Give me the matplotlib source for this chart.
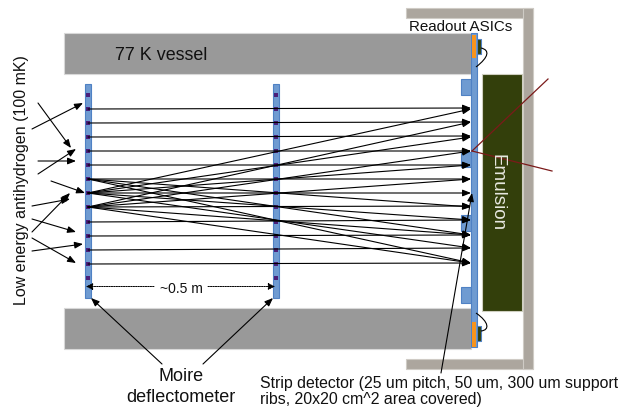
"""Moire deflectometer setup sketch."""

import matplotlib
matplotlib.use("Agg")
import matplotlib.pyplot as plt
from matplotlib.patches import Rectangle, PathPatch
from matplotlib.path import Path

plt.rcParams["font.family"] = ["Liberation Sans", "DejaVu Sans"]

# Grating slit positions
slit_y = [95, 109, 123, 137, 151, 165, 179, 193, 207, 222, 236, 250, 264, 278]

# Rays through the gratings (y on first grating, y on strip detector)
straight_start = [109, 123, 137, 151, 165, 179, 193, 207, 222, 236, 250, 264]
straight_end = [108, 122, 136, 151, 165, 179, 193, 206, 220, 235, 248, 263]
cross_start = [193, 193, 207, 207, 193, 207, 179, 179, 193, 179, 193, 207, 207]
cross_end = [109, 137, 122, 151, 165, 179, 207, 235, 220, 263, 248, 235, 263]

# Incoming antihydrogen arrows (tail x, tail y, head x, head y)
incoming = [
    (32, 129, 83, 103),
    (38, 103, 71, 148),
    (38, 174, 76, 149),
    (38, 161, 76, 161),
    (51, 181, 85, 193),
    (32, 206, 70, 199),
    (32, 232, 70, 193),
    (32, 219, 76, 232),
    (32, 251, 83, 244),
    (32, 238, 76, 263),
]

# Label pointers
pointers = [
    (162, 364, 91, 298),
    (203, 364, 273, 298),
    (441, 373, 472, 193),
]

# Blue pads on the detector (top y, bottom y)
pad_top = [79, 152, 215, 287]
pad_bottom = [95, 167, 231, 303]

GREY = "#999999"
FRAME = "#aca69e"
BLUE = "#6f9bd1"
EDGE = "#4f81c4"
DARK = "#333f0b"
ORANGE = "#f7941d"
SLIT = "#4b1f7a"
RED = "#7b1a1a"

fig = plt.figure(figsize=(6.18, 4.07), dpi=100)
ax = fig.add_axes([0, 0, 1, 1])
ax.set_xlim(0, 618)
ax.set_ylim(407, 0)
ax.axis("off")


def box(x0, y0, x1, y1, color, edge=None, lw=0.8, z=1):
    ax.add_patch(Rectangle((x0, y0), x1 - x0, y1 - y0, facecolor=color,
                           edgecolor=edge or "none", linewidth=lw, zorder=z))


def arrow(x0, y0, x1, y1, lw=0.8, z=5):
    ax.annotate("", xy=(x1, y1), xytext=(x0, y0), zorder=z,
                arrowprops=dict(arrowstyle="-|>,head_length=0.5,head_width=0.2",
                                color="black", lw=lw, shrinkA=0, shrinkB=0))


# Vessel and frame
box(64, 33, 471, 74, GREY, "#d8d8d8")
box(64, 308, 471, 349, GREY, "#d8d8d8")
box(406, 8, 533, 18, FRAME, "#cfcbc5")
box(406, 359, 533, 369, FRAME, "#cfcbc5")
box(523, 8, 533, 369, FRAME, "#cfcbc5")
box(482, 74, 522, 311, DARK, "#cfcfc0")

# Strip detector
for y0, y1 in zip(pad_top, pad_bottom):
    box(461, y0, 471, y1, BLUE, EDGE)
box(471, 33, 477, 347, BLUE, EDGE, z=2)
box(472, 35, 476, 58, ORANGE, z=3)
box(472, 322, 476, 347, ORANGE, z=3)
box(477, 39, 481, 54, DARK, EDGE, z=3)
box(477, 326, 481, 341, DARK, EDGE, z=3)

# Wire bonds
for verts in ([(481, 48), (490, 50), (489, 57), (476, 67)],
              [(481, 331), (490, 330), (489, 322), (476, 313)]):
    ax.add_patch(PathPatch(Path(verts, [Path.MOVETO, Path.CURVE4, Path.CURVE4, Path.CURVE4]),
                           fill=False, lw=0.8, color="black", zorder=3))

# Gratings
for x in (85, 273):
    box(x, 84, x + 6, 298, BLUE, EDGE, z=2)
    ax.scatter([x + 3] * len(slit_y), slit_y, marker="s", s=10, color=SLIT,
               linewidths=0, zorder=3)

# Rays
for y0, y1 in zip(straight_start, straight_end):
    arrow(88, y0, 471, y1)
for y0, y1 in zip(cross_start, cross_end):
    arrow(88, y0, 471, y1)

# Incoming particles and label pointers
for x0, y0, x1, y1 in incoming + pointers:
    arrow(x0, y0, x1, y1)

# Annihilation prongs
ax.plot([472, 548], [151, 79], color=RED, lw=0.9, zorder=6)
ax.plot([472, 552], [151, 171], color=RED, lw=0.9, zorder=6)

# Grating distance
ax.annotate("", xy=(86, 286.5), xytext=(154, 286.5), zorder=5,
            arrowprops=dict(arrowstyle="-|>,head_length=0.4,head_width=0.2", color="black",
                            lw=0.7, ls=(0, (1.5, 1)), shrinkA=0, shrinkB=0))
ax.annotate("", xy=(275, 286.5), xytext=(208, 286.5), zorder=5,
            arrowprops=dict(arrowstyle="-|>,head_length=0.4,head_width=0.2", color="black",
                            lw=0.7, ls=(0, (1.5, 1)), shrinkA=0, shrinkB=0))

# Labels
ax.text(115, 55, "77 K vessel", fontsize=12.9, va="center", color="#111111")
ax.text(409, 27, "Readout ASICs", fontsize=10.9, va="center", color="#111111")
ax.text(181, 289, "~0.5 m", fontsize=10, ha="center", va="center", color="#111111")
ax.text(181, 387, "Moire\ndeflectometer", fontsize=13, ha="center", va="center",
        linespacing=1.25, color="#111111")
ax.text(260, 391.5, "Strip detector (25 um pitch, 50 um, 300 um support\nribs, 20x20 cm^2 area covered)",
        fontsize=11.4, va="center", linespacing=1.1, color="#111111")
ax.text(22, 180, "Low energy antihydrogen (100 mK)", fontsize=11.5, rotation=90,
        ha="center", va="center", color="#111111")
ax.text(497, 193, "Emulsion", fontsize=13.6, rotation=270, ha="center", va="center",
        color="#e8e8e0", zorder=6)

fig.savefig("out.png", dpi=100)
